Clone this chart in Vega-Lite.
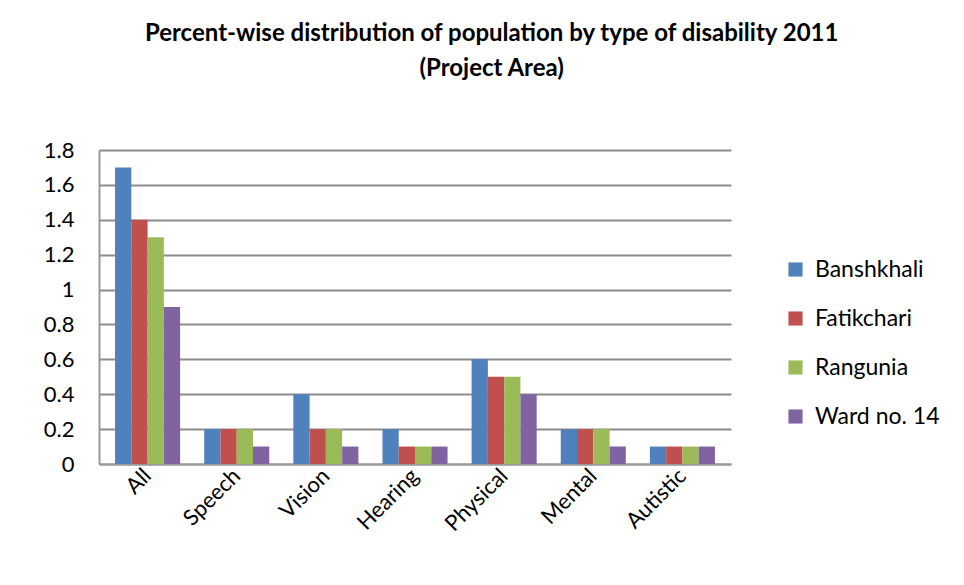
{
  "$schema": "https://vega.github.io/schema/vega-lite/v6.json",
  "width": 632,
  "height": 314,
  "padding": {"left": 43, "top": 22, "right": 10, "bottom": 5},
  "background": "white",
  "title": {
    "text": ["Percent-wise distribution of population by type of disability 2011", "(Project Area)"],
    "font": "Lato",
    "fontSize": 24,
    "fontWeight": "bold",
    "color": "black",
    "anchor": "middle",
    "frame": "bounds",
    "lineHeight": 35,
    "offset": 58
  },
  "data": {
    "values": [
      {"type": "All", "area": "Banshkhali", "value": 1.7},
      {"type": "All", "area": "Fatikchari", "value": 1.4},
      {"type": "All", "area": "Rangunia", "value": 1.3},
      {"type": "All", "area": "Ward no. 14", "value": 0.9},
      {"type": "Speech", "area": "Banshkhali", "value": 0.2},
      {"type": "Speech", "area": "Fatikchari", "value": 0.2},
      {"type": "Speech", "area": "Rangunia", "value": 0.2},
      {"type": "Speech", "area": "Ward no. 14", "value": 0.1},
      {"type": "Vision", "area": "Banshkhali", "value": 0.4},
      {"type": "Vision", "area": "Fatikchari", "value": 0.2},
      {"type": "Vision", "area": "Rangunia", "value": 0.2},
      {"type": "Vision", "area": "Ward no. 14", "value": 0.1},
      {"type": "Hearing", "area": "Banshkhali", "value": 0.2},
      {"type": "Hearing", "area": "Fatikchari", "value": 0.1},
      {"type": "Hearing", "area": "Rangunia", "value": 0.1},
      {"type": "Hearing", "area": "Ward no. 14", "value": 0.1},
      {"type": "Physical", "area": "Banshkhali", "value": 0.6},
      {"type": "Physical", "area": "Fatikchari", "value": 0.5},
      {"type": "Physical", "area": "Rangunia", "value": 0.5},
      {"type": "Physical", "area": "Ward no. 14", "value": 0.4},
      {"type": "Mental", "area": "Banshkhali", "value": 0.2},
      {"type": "Mental", "area": "Fatikchari", "value": 0.2},
      {"type": "Mental", "area": "Rangunia", "value": 0.2},
      {"type": "Mental", "area": "Ward no. 14", "value": 0.1},
      {"type": "Autistic", "area": "Banshkhali", "value": 0.1},
      {"type": "Autistic", "area": "Fatikchari", "value": 0.1},
      {"type": "Autistic", "area": "Rangunia", "value": 0.1},
      {"type": "Autistic", "area": "Ward no. 14", "value": 0.1}
    ]
  },
  "mark": {"type": "bar"},
  "encoding": {
    "x": {
      "field": "type",
      "type": "nominal",
      "sort": ["All", "Speech", "Vision", "Hearing", "Physical", "Mental", "Autistic"],
      "scale": {"paddingInner": 0.27, "paddingOuter": 0.18},
      "axis": {
        "title": null,
        "grid": false,
        "labelAngle": -45,
        "labelAlign": "right",
        "labelBaseline": "middle",
        "labelFont": "Lato",
        "labelFontSize": 22,
        "labelColor": "black",
        "labelPadding": 8,
        "ticks": false,
        "domainColor": "#999999",
        "domainWidth": 2
      }
    },
    "xOffset": {
      "field": "area",
      "type": "nominal",
      "sort": ["Banshkhali", "Fatikchari", "Rangunia", "Ward no. 14"]
    },
    "y": {
      "field": "value",
      "type": "quantitative",
      "scale": {"domain": [0, 1.8]},
      "axis": {
        "title": null,
        "grid": true,
        "values": [0, 0.2, 0.4, 0.6, 0.8, 1, 1.2, 1.4, 1.6, 1.8],
        "labelExpr": "toString(datum.value)",
        "labelFont": "Lato",
        "labelFontSize": 22,
        "labelColor": "black",
        "labelPadding": 25,
        "ticks": false,
        "gridColor": "#8c8c8c",
        "gridWidth": 2,
        "domainColor": "#999999",
        "domainWidth": 2
      }
    },
    "color": {
      "field": "area",
      "type": "nominal",
      "sort": ["Banshkhali", "Fatikchari", "Rangunia", "Ward no. 14"],
      "scale": {
        "domain": ["Banshkhali", "Fatikchari", "Rangunia", "Ward no. 14"],
        "range": ["#4F81BD", "#C0504D", "#9BBB59", "#8064A2"]
      },
      "legend": {
        "title": null,
        "symbolType": "square",
        "symbolSize": 200,
        "symbolStrokeWidth": 0,
        "labelFont": "Lato",
        "labelFontSize": 23,
        "labelColor": "black",
        "rowPadding": 25,
        "labelOffset": 8,
        "orient": "none",
        "legendX": 685,
        "legendY": 108,
        "padding": 0
      }
    }
  },
  "config": {
    "view": {"stroke": null}
  }
}
